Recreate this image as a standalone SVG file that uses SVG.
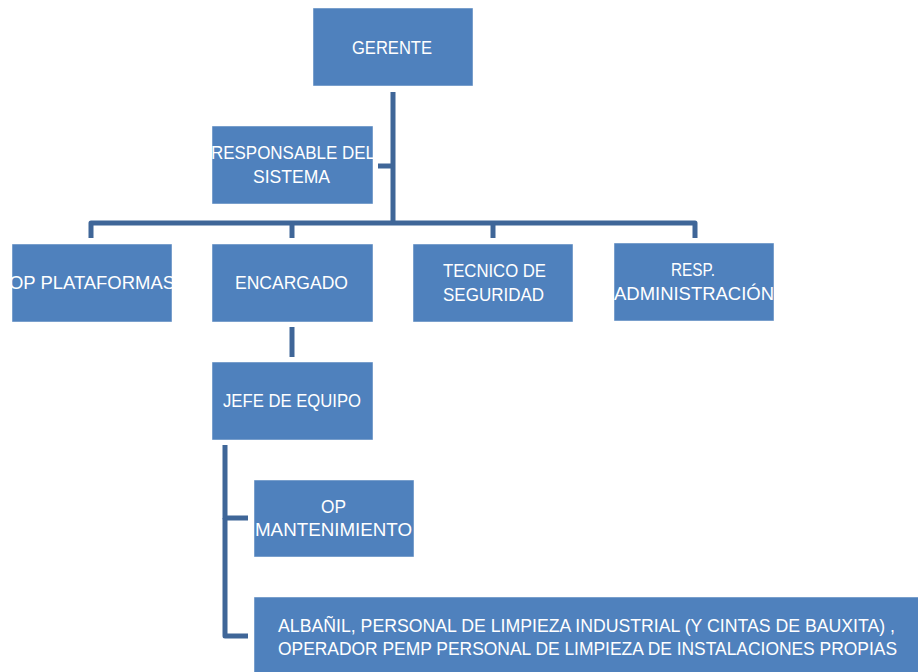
<svg xmlns="http://www.w3.org/2000/svg" width="918" height="672" viewBox="0 0 918 672">
<style>
.box{fill:#4F81BD;stroke:#ffffff;stroke-width:0.8;stroke-opacity:0.6}
.lbl{font-family:"Liberation Sans","Arial",sans-serif;font-size:18px;fill:#ffffff;text-anchor:middle}
.con{fill:none;stroke:#3F6698;stroke-width:5;stroke-linejoin:round;stroke-linecap:butt}
</style>
<defs>
<clipPath id="c-resp"><rect x="212" y="126" width="161" height="78"/></clipPath>
<clipPath id="c-plat"><rect x="12" y="244" width="160" height="78"/></clipPath>
<clipPath id="c-admin"><rect x="614" y="243" width="160" height="78"/></clipPath>
</defs>
<rect width="918" height="672" fill="#ffffff"/>
<g id="connectors">
<path class="con" d="M393,92 V223"/>
<path class="con" d="M378,166 H393"/>
<path class="con" d="M91,238 V223 H695 V238"/>
<path class="con" d="M292,223 V238"/>
<path class="con" d="M493,223 V238"/>
<path class="con" d="M292,327 V357"/>
<path class="con" d="M248,518 H225 V445"/>
<path class="con" d="M225,518 V636 H248"/>
</g>
<g id="gerente">
<rect class="box" x="313" y="8" width="160" height="78"/>
<text class="lbl" x="392" y="54" textLength="80" lengthAdjust="spacingAndGlyphs">GERENTE</text>
</g>
<g id="responsable">
<rect class="box" x="212" y="126" width="161" height="78"/>
<g clip-path="url(#c-resp)">
<text class="lbl" x="293" y="159" textLength="164" lengthAdjust="spacingAndGlyphs">RESPONSABLE DEL</text>
<text class="lbl" x="291.5" y="183" textLength="77" lengthAdjust="spacingAndGlyphs">SISTEMA</text>
</g>
</g>
<g id="op-plataformas">
<rect class="box" x="12" y="244" width="160" height="78"/>
<g clip-path="url(#c-plat)">
<text class="lbl" x="92" y="289" textLength="166" lengthAdjust="spacingAndGlyphs">OP PLATAFORMAS</text>
</g>
</g>
<g id="encargado">
<rect class="box" x="212" y="244" width="161" height="78"/>
<text class="lbl" x="291.5" y="289" textLength="113" lengthAdjust="spacingAndGlyphs">ENCARGADO</text>
</g>
<g id="tecnico">
<rect class="box" x="413" y="244" width="160" height="78"/>
<text class="lbl" x="494.5" y="277" textLength="103" lengthAdjust="spacingAndGlyphs">TECNICO DE</text>
<text class="lbl" x="493.5" y="301" textLength="101" lengthAdjust="spacingAndGlyphs">SEGURIDAD</text>
</g>
<g id="resp-admin">
<rect class="box" x="614" y="243" width="160" height="78"/>
<g clip-path="url(#c-admin)">
<text class="lbl" x="693" y="276" textLength="44" lengthAdjust="spacingAndGlyphs">RESP.</text>
<text class="lbl" x="694" y="300" textLength="160" lengthAdjust="spacingAndGlyphs">ADMINISTRACIÓN</text>
</g>
</g>
<g id="jefe">
<rect class="box" x="212" y="362" width="161" height="78"/>
<text class="lbl" x="292" y="407" textLength="138" lengthAdjust="spacingAndGlyphs">JEFE DE EQUIPO</text>
</g>
<g id="op-mantenimiento">
<rect class="box" x="254" y="480" width="160" height="77"/>
<text class="lbl" x="333.5" y="513" textLength="25" lengthAdjust="spacingAndGlyphs">OP</text>
<text class="lbl" x="333.5" y="536" textLength="157" lengthAdjust="spacingAndGlyphs">MANTENIMIENTO</text>
</g>
<g id="albanil">
<rect class="box" x="254" y="597" width="672" height="80"/>
<text class="lbl" x="586.5" y="632" textLength="617" lengthAdjust="spacingAndGlyphs">ALBAÑIL, PERSONAL DE LIMPIEZA INDUSTRIAL (Y CINTAS DE BAUXITA) ,</text>
<text class="lbl" x="587.5" y="655" textLength="619" lengthAdjust="spacingAndGlyphs">OPERADOR PEMP PERSONAL DE LIMPIEZA DE INSTALACIONES PROPIAS</text>
</g>
</svg>
